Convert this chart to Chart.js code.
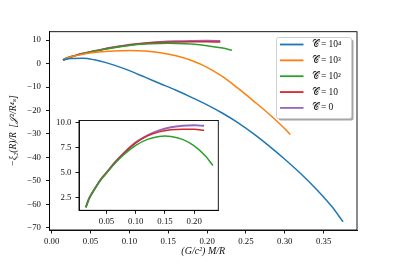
<!DOCTYPE html>
<html><head><meta charset="utf-8">
<script src="https://cdn.jsdelivr.net/npm/chart.js@4"></script>
<style>
html,body{margin:0;padding:0;background:#fff;}
#wrap{position:relative;width:397px;height:264px;overflow:hidden;}
#main{position:absolute;left:0;top:0;}
#inset{position:absolute;left:45px;top:110px;}
</style></head><body>
<div id="wrap"><canvas id="main" width="397" height="264"></canvas><canvas id="inset" width="180" height="122"></canvas></div>
<script>
// ---- data ----
const seriesLabels = ['𝒞 = 10⁴', '𝒞 = 10³', '𝒞 = 10²', '𝒞 = 10', '𝒞 = 0'];
const seriesColors = ['#1f77b4', '#ff7f0e', '#2ca02c', '#d62728', '#9467bd'];

const xC4 = [0.0145, 0.025, 0.04, 0.055, 0.07, 0.085, 0.1, 0.12, 0.14, 0.16, 0.18, 0.2, 0.22, 0.24, 0.26, 0.28, 0.3, 0.32, 0.34, 0.36, 0.375];
const yC4 = [1.54, 2.15, 2.25, 1.6, 0.4, -1.2, -3.0, -5.8, -8.6, -11.4, -14.4, -17.6, -21.2, -25.3, -30.0, -35.2, -40.8, -46.8, -53.4, -60.8, -67.5];

const xC3 = [0.0145, 0.025, 0.04, 0.06, 0.08, 0.1, 0.12, 0.14, 0.16, 0.18, 0.2, 0.22, 0.24, 0.26, 0.28, 0.3, 0.307];
const yC3 = [1.54, 2.9, 4.0, 4.9, 5.4, 5.6, 5.35, 4.6, 3.3, 1.3, -1.6, -5.6, -10.6, -16.0, -21.6, -27.8, -30.3];

const xC2 = [0.0145, 0.02, 0.03, 0.04, 0.05, 0.065, 0.08, 0.1, 0.12, 0.14, 0.15, 0.16, 0.18, 0.2, 0.22, 0.232];
const yC2 = [1.54, 2.4, 3.4, 4.25, 4.95, 5.95, 6.8, 7.7, 8.3, 8.6, 8.63, 8.6, 8.3, 7.65, 6.6, 5.7];

const xC1 = [0.0145, 0.02, 0.03, 0.04, 0.05, 0.065, 0.08, 0.1, 0.12, 0.14, 0.16, 0.18, 0.2, 0.217];
const yC1 = [1.54, 2.4, 3.4, 4.3, 5.0, 6.05, 6.95, 7.95, 8.65, 9.05, 9.25, 9.32, 9.3, 9.2];

const xC0 = [0.0145, 0.02, 0.03, 0.04, 0.05, 0.065, 0.08, 0.1, 0.12, 0.14, 0.16, 0.18, 0.2, 0.217];
const yC0 = [1.54, 2.4, 3.4, 4.3, 5.0, 6.05, 6.95, 8.0, 8.7, 9.2, 9.5, 9.65, 9.7, 9.65];

const xTicks = [0.00, 0.05, 0.10, 0.15, 0.20, 0.25, 0.30, 0.35];
const xTickLabels = ['0.00', '0.05', '0.10', '0.15', '0.20', '0.25', '0.30', '0.35'];
const yTicks = [10, 0, -10, -20, -30, -40, -50, -60, -70];
const yTickLabels = ['10', '0', '−10', '−20', '−30', '−40', '−50', '−60', '−70'];

const insetXTicks = [0.05, 0.10, 0.15, 0.20];
const insetXTickLabels = ['0.05', '0.10', '0.15', '0.20'];
const insetYTicks = [2.5, 5.0, 7.5, 10.0];
const insetYTickLabels = ['2.5', '5.0', '7.5', '10.0'];

const xTitle = '(G/c²) M/R';
const yTitle = '−ξ₂(R)/R  [𝒥²/R⁴ₛ]';

// ---- build ----
const SERIF = "'Liberation Serif', 'DejaVu Serif', serif";
const tickFont = {family: SERIF, size: 8.8};
const pts = (xs, ys) => xs.map((x, i) => ({x: x, y: ys[i]}));
const allX = [xC4, xC3, xC2, xC1, xC0];
const allY = [yC4, yC3, yC2, yC1, yC0];

function mkDataset(i, w) {
  return {label: seriesLabels[i], data: pts(allX[i], allY[i]), borderColor: seriesColors[i],
          backgroundColor: seriesColors[i], borderWidth: w, pointRadius: 0, fill: false,
          cubicInterpolationMode: 'monotone'};
}

function framePlugin(id) {
  return {id: id, afterDatasetsDraw(chart) {
    const a = chart.chartArea, c = chart.ctx;
    c.save(); c.strokeStyle = '#000'; c.lineWidth = 0.9;
    c.strokeRect(a.left, a.top, a.right - a.left, a.bottom - a.top);
    c.restore();
  }};
}

function rr(c, x, y, w, h, r) {
  c.beginPath();
  c.moveTo(x + r, y); c.lineTo(x + w - r, y); c.quadraticCurveTo(x + w, y, x + w, y + r);
  c.lineTo(x + w, y + h - r); c.quadraticCurveTo(x + w, y + h, x + w - r, y + h);
  c.lineTo(x + r, y + h); c.quadraticCurveTo(x, y + h, x, y + h - r);
  c.lineTo(x, y + r); c.quadraticCurveTo(x, y, x + r, y); c.closePath();
}

const legendPlugin = {id: 'boxLegend', afterDraw(chart) {
  const c = chart.ctx;
  const x0 = 276.5, y0 = 37.5, w = 75, h = 81;
  c.save();
  c.fillStyle = 'rgba(77,77,77,0.5)'; rr(c, x0 + 2, y0 + 2, w, h, 2); c.fill();
  c.fillStyle = '#fff'; rr(c, x0, y0, w, h, 2); c.fill();
  c.strokeStyle = '#d0d0d0'; c.lineWidth = 1; c.stroke();
  chart.data.datasets.forEach((ds, i) => {
    const y = 44.5 + i * 15.85;
    c.strokeStyle = ds.borderColor; c.lineWidth = 1.8;
    c.beginPath(); c.moveTo(280, y); c.lineTo(303.5, y); c.stroke();
    c.fillStyle = '#111'; c.font = "9.5px " + SERIF; c.textBaseline = 'middle'; c.textAlign = 'left';
    c.fillText(ds.label, 311.5, y);
  });
  c.restore();
}};

function axisCommon(ticksArr, labelsArr) {
  return {
    afterBuildTicks: s => { s.ticks = ticksArr.map(v => ({value: v})); },
    ticks: {callback: (v, i) => labelsArr[i], font: tickFont, color: '#111', autoSkip: false, maxRotation: 0, padding: 2.5},
    grid: {drawOnChartArea: false, drawTicks: true, tickLength: 3.5, color: '#000', lineWidth: 0.9},
    border: {display: true, color: '#000', width: 0.9}
  };
}

const mainX = Object.assign(axisCommon(xTicks, xTickLabels), {
  type: 'linear', min: -0.0028, max: 0.3929,
  afterFit: s => { s.height = 34; },
  title: {display: true, text: xTitle, font: {family: SERIF, size: 10, style: 'italic'}, color: '#111', padding: {top: 0, bottom: 7}}
});
const mainY = Object.assign(axisCommon(yTicks, yTickLabels), {
  type: 'linear', min: -71.0, max: 13.6,
  afterFit: s => { s.width = 49.5; },
  title: {display: true, text: yTitle, font: {family: SERIF, size: 9.5, style: 'italic'}, color: '#111', padding: {top: 8, bottom: 0}}
});
mainY.ticks.padding = 5;

new Chart(document.getElementById('main'), {
  type: 'line',
  data: {datasets: [0, 1, 2, 3, 4].map(i => mkDataset(i, i === 4 ? 2 : 1.5))},
  options: {
    responsive: false, animation: false, devicePixelRatio: 1,
    layout: {padding: {left: 0, right: 40, top: 31.7, bottom: 0}},
    plugins: {legend: {display: false}, tooltip: {enabled: false}},
    scales: {x: mainX, y: mainY}
  },
  plugins: [framePlugin('frameMain'), legendPlugin]
});

const insX = Object.assign(axisCommon(insetXTicks, insetXTickLabels), {
  type: 'linear', min: 0.0029, max: 0.2412,
  afterFit: s => { s.height = 21.7; }
});
const insY = Object.assign(axisCommon(insetYTicks, insetYTickLabels), {
  type: 'linear', min: 1.25, max: 10.18,
  afterFit: s => { s.width = 34; }
});
insY.ticks.padding = 4;

new Chart(document.getElementById('inset'), {
  type: 'line',
  data: {datasets: [2, 3, 4].map(i => mkDataset(i, i === 4 ? 2 : 1.5))},
  options: {
    responsive: false, animation: false, devicePixelRatio: 1,
    layout: {padding: {left: 0, right: 6.7, top: 10.5, bottom: 0}},
    plugins: {legend: {display: false}, tooltip: {enabled: false}},
    scales: {x: insX, y: insY}
  },
  plugins: [{id: 'bg', beforeDraw(chart) {
    const a = chart.chartArea, c = chart.ctx;
    c.save(); c.fillStyle = '#fff'; c.fillRect(a.left, a.top, a.right - a.left, a.bottom - a.top); c.restore();
  }}, framePlugin('frameInset')]
});
</script>
</body></html>
